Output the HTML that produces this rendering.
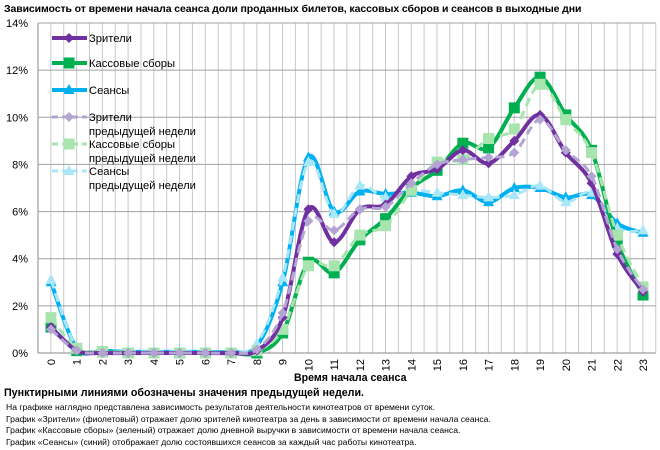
<!DOCTYPE html>
<html><head><meta charset="utf-8"><style>
body{margin:0;width:660px;height:450px;background:#fff;font-family:"Liberation Sans","DejaVu Sans",sans-serif;overflow:hidden;position:relative}
.t{position:absolute;white-space:nowrap;color:#000}
</style></head><body>
<svg id="s" width="660" height="450" style="position:absolute;left:0;top:0" font-family="Liberation Sans, DejaVu Sans, sans-serif"></svg>
<div class="t" style="left:4px;top:3px;font-size:10.5px;font-weight:bold;letter-spacing:-0.1px">Зависимость от времени начала сеанса доли проданных билетов, кассовых сборов и сеансов в выходные дни</div>
<div class="t" style="left:294px;top:372px;font-size:10.6px;font-weight:bold">Время начала сеанса</div>
<div class="t" style="left:4px;top:387px;font-size:10.7px;font-weight:bold">Пунктирными линиями обозначены значения предыдущей недели.</div>
<div class="t" style="left:6px;top:402px;font-size:8.6px">На графике наглядно представлена зависимость результатов деятельности кинотеатров от времени суток.</div>
<div class="t" style="left:6px;top:414px;font-size:8.6px">График «Зрители» (фиолетовый) отражает долю зрителей кинотеатра за день в зависимости от времени начала сеанса.</div>
<div class="t" style="left:6px;top:425px;font-size:8.6px">График «Кассовые сборы» (зеленый) отражает долю дневной выручки в зависимости от времени начала сеанса.</div>
<div class="t" style="left:6px;top:437px;font-size:8.6px">График «Сеансы» (синий) отображает долю состоявшихся сеансов за каждый час работы кинотеатра.</div>
<script>
const s=document.getElementById('s');let h='';
const L=38,R=655.8,T=23,B=353,cw=25.74;
const X=i=>51+i*cw, Y=v=>B-v*(B-T)/14;
for(let k=0;k<=48;k++){const x=L+k*12.87;if(x>R+1)break;h+=`<line x1="${x}" y1="${T}" x2="${x}" y2="${B}" stroke="#c8c8c8" stroke-width="1"/>`;}
for(let p=0;p<=14;p+=2){const y=Y(p);h+=`<line x1="${L}" y1="${y}" x2="${R}" y2="${y}" stroke="#a0a0a0" stroke-width="1"/><text x="28" y="${y+4}" font-size="11" text-anchor="end">${p}%</text>`;}
h+=`<line x1="${L}" y1="${T}" x2="${L}" y2="${B}" stroke="#888"/><line x1="${L}" y1="${B}" x2="${R}" y2="${B}" stroke="#888"/>`;
for(let i=0;i<24;i++){const x=X(i);h+=`<text transform="translate(${x+4},${B+6}) rotate(-90)" font-size="11" text-anchor="end">${i}</text>`;}
function path(d){let p=`M${X(0)},${Y(d[0])}`;for(let i=0;i<d.length-1;i++){const p0=[X(Math.max(i-1,0)),Y(d[Math.max(i-1,0)])],p1=[X(i),Y(d[i])],p2=[X(i+1),Y(d[i+1])],p3=[X(Math.min(i+2,d.length-1)),Y(d[Math.min(i+2,d.length-1)])];const c1=[p1[0]+(p2[0]-p0[0])/6,p1[1]+(p2[1]-p0[1])/6],c2=[p2[0]-(p3[0]-p1[0])/6,p2[1]-(p3[1]-p1[1])/6];p+=`C${c1[0]},${c1[1]} ${c2[0]},${c2[1]} ${p2[0]},${p2[1]}`;}return p;}
function mk(t,x,y,c){if(t=='d')return `<polygon points="${x},${y-5} ${x+5},${y} ${x},${y+5} ${x-5},${y}" fill="${c}"/>`;if(t=='s')return `<rect x="${x-5.5}" y="${y-5.5}" width="11" height="11" fill="${c}"/>`;return `<polygon points="${x},${y-6} ${x+5.5},${y+4} ${x-5.5},${y+4}" fill="${c}"/>`;}
function ser(d,c,t,dash){h+=`<path d="${path(d)}" fill="none" stroke="${c}" stroke-width="${dash?3:4}" ${dash?'stroke-dasharray="9,5"':''} stroke-linejoin="round"/>`;d.forEach((v,i)=>h+=mk(t,X(i),Y(v),c));}
const vP=[1.1,0.1,0,0,0,0,0,0,0.1,1.5,6.1,4.7,6.1,6.3,7.5,7.8,8.6,8.05,9.0,10.1,8.5,7.2,4.2,2.6];
const vG=[1.1,0.1,0.05,0,0,0,0,0,0,0.85,3.85,3.4,4.8,5.7,7.0,7.75,8.9,8.7,10.4,11.7,10.1,8.6,4.7,2.46];
const vB=[3.0,0.2,0.1,0.05,0.05,0.05,0.05,0.05,0.3,3.0,8.3,6.0,6.85,6.75,6.8,6.65,6.9,6.4,7.0,7.0,6.6,6.7,5.5,5.1];
const pP=[1.0,0.1,0,0,0,0,0,0,0.15,1.7,5.6,5.2,6.1,6.2,7.2,8.0,8.2,8.3,8.5,9.9,8.6,7.5,4.4,2.7];
const pG=[1.5,0.2,0.05,0,0,0,0,0,0.1,1.0,3.7,3.7,5.0,5.4,6.9,8.1,8.2,9.1,9.5,11.4,9.9,8.5,5.0,2.8];
const pB=[3.1,0.2,0.1,0.05,0.05,0.05,0.05,0.05,0.4,3.2,8.1,5.9,7.1,6.6,6.9,6.8,6.7,6.6,6.7,7.1,6.4,6.8,5.3,5.2];
ser(vB,'#00b0f0','t');ser(pB,'#a8e6f8','t',1);
ser(vG,'#00b050','s');ser(pG,'#a8e4ae','s',1);
ser(vP,'#7030a0','d');ser(pP,'#b4a4d4','d',1);
const lg=[['Зрители',null,'#7030a0','d',0,38],['Кассовые сборы',null,'#00b050','s',0,63],['Сеансы',null,'#00b0f0','t',0,90],['Зрители','предыдущей недели','#b4a4d4','d',1,117],['Кассовые сборы','предыдущей недели','#a8e4ae','s',1,144],['Сеансы','предыдущей недели','#a8e6f8','t',1,171]];
lg.forEach(([a,b,c,t,d,y])=>{h+=`<line x1="52" y1="${y}" x2="87" y2="${y}" stroke="${c}" stroke-width="${d?3:4}" ${d?'stroke-dasharray="6,4"':''}/>`+mk(t,69,y,c);h+=`<text x="89" y="${y+4}" font-size="11.2">${a}</text>`;if(b)h+=`<text x="89" y="${y+18}" font-size="11.2">${b}</text>`;});
s.innerHTML=h;
</script>
</body></html>
